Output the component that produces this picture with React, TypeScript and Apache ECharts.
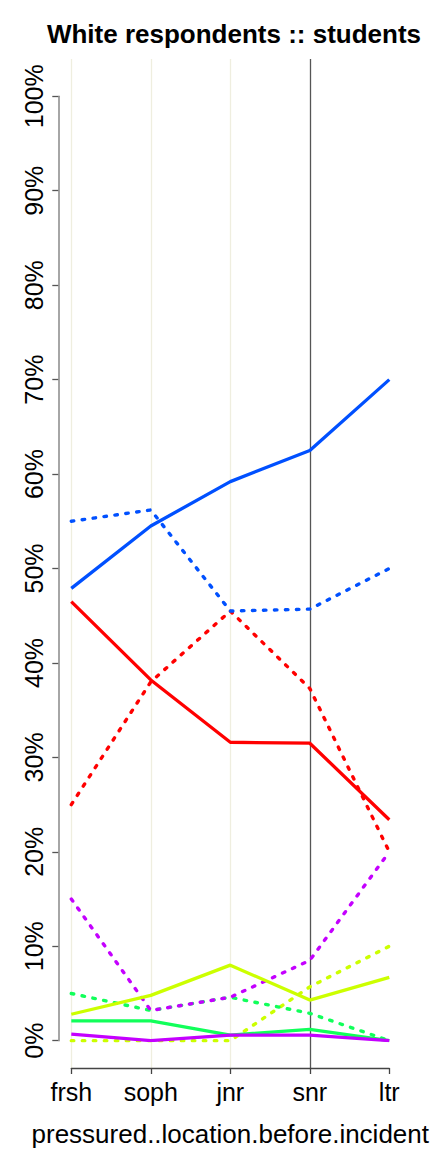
import React, { useEffect, useRef } from "react";
import * as echarts from "echarts";

const categories = ["frsh", "soph", "jnr", "snr", "ltr"];
const yTickValues = [0, 10, 20, 30, 40, 50, 60, 70, 80, 90, 100];

const blueSolid = [47.9, 54.5, 59.2, 62.5, 70.0];
const blueDashed = [55.0, 56.2, 45.5, 45.7, 50.0];
const redSolid = [46.5, 38.2, 31.6, 31.5, 23.4];
const redDashed = [25.0, 38.0, 45.5, 37.3, 20.0];
const purpleSolid = [0.7, 0.0, 0.6, 0.6, 0.0];
const purpleDashed = [15.0, 3.2, 4.6, 8.5, 20.0];
const greenSolid = [2.1, 2.1, 0.6, 1.2, 0.0];
const greenDashed = [5.0, 3.2, 4.6, 2.9, 0.0];
const yellowSolid = [2.8, 4.8, 8.0, 4.3, 6.7];
const yellowDashed = [0.0, 0.0, 0.0, 5.7, 10.0];

const BLUE = "#0050ff";
const RED = "#ff0000";
const PURPLE = "#c400ff";
const GREEN = "#11ff5a";
const YELLOW = "#ccff00";

const FONT = "'Liberation Sans', Arial, Helvetica, sans-serif";

function line(name: string, data: number[], color: string, dashed: boolean) {
  return {
    name,
    type: "line",
    xAxisIndex: 0,
    yAxisIndex: 0,
    data,
    symbol: "none",
    silent: true,
    lineStyle: dashed
      ? { color, width: 3.4, type: [2.5, 8.5], cap: "round" }
      : { color, width: 3.3, type: "solid" },
  };
}

export default function App() {
  const ref = useRef<HTMLDivElement>(null);
  useEffect(() => {
    if (!ref.current) return;
    const chart = echarts.init(ref.current, undefined, { renderer: "svg" });
    const option: any = {
      animation: false,
      backgroundColor: "#ffffff",
      title: {
        text: "White respondents :: students",
        left: 229,
        textAlign: "center",
        top: 16,
        textStyle: {
          fontFamily: FONT,
          fontSize: 26,
          fontWeight: "bold",
          color: "#000",
          lineHeight: 26,
        },
      },
      grid: [
        { left: 71.3, right: 42.7, top: 96.3, bottom: 111.3 },
        { left: 71.3, right: 42.7, top: 59, bottom: 73 },
      ],
      xAxis: [
        {
          type: "category",
          gridIndex: 0,
          data: categories,
          boundaryGap: false,
          show: false,
        },
        {
          type: "category",
          gridIndex: 1,
          data: categories,
          boundaryGap: false,
          axisLine: { lineStyle: { color: "#444", width: 1.3 } },
          axisTick: {
            show: true,
            inside: false,
            length: 6,
            interval: 0,
            lineStyle: { color: "#444", width: 1.3 },
          },
          axisLabel: {
            interval: 0,
            fontFamily: FONT,
            fontSize: 25,
            color: "#000",
            margin: 11,
          },
          splitLine: {
            show: true,
            interval: 0,
            lineStyle: {
              color: ["#efeedf", "#efeedf", "#efeedf", "#555555", "rgba(0,0,0,0)"],
              width: 1.3,
            },
          },
          name: "pressured..location.before.incident",
          nameLocation: "middle",
          nameGap: 53,
          nameTextStyle: { fontFamily: FONT, fontSize: 26, color: "#000" },
        },
      ],
      yAxis: [
        {
          type: "value",
          gridIndex: 0,
          min: 0,
          max: 100,
          interval: 10,
          offset: 13,
          axisLine: { show: true, lineStyle: { color: "#888", width: 1.5 } },
          axisTick: {
            show: true,
            length: 6,
            customValues: yTickValues,
            lineStyle: { color: "#555", width: 1.3 },
          },
          axisLabel: {
            rotate: 90,
            margin: 12,
            fontFamily: FONT,
            fontSize: 25,
            color: "#000",
            formatter: "{value}%",
            customValues: yTickValues,
          },
          splitLine: { show: false },
        },
        {
          type: "value",
          gridIndex: 1,
          min: 0,
          max: 1,
          show: false,
          splitLine: { show: false },
        },
      ],
      series: [
        line("yellow dashed", yellowDashed, YELLOW, true),
        line("green dashed", greenDashed, GREEN, true),
        line("purple dashed", purpleDashed, PURPLE, true),
        line("red dashed", redDashed, RED, true),
        line("blue dashed", blueDashed, BLUE, true),
        line("yellow solid", yellowSolid, YELLOW, false),
        line("green solid", greenSolid, GREEN, false),
        line("purple solid", purpleSolid, PURPLE, false),
        line("red solid", redSolid, RED, false),
        line("blue solid", blueSolid, BLUE, false),
      ],
    };
    chart.setOption(option);
    return () => chart.dispose();
  }, []);
  return (
    <div
      ref={ref}
      style={{ position: "absolute", left: 0, top: 0, width: 432, height: 1152 }}
    />
  );
}
